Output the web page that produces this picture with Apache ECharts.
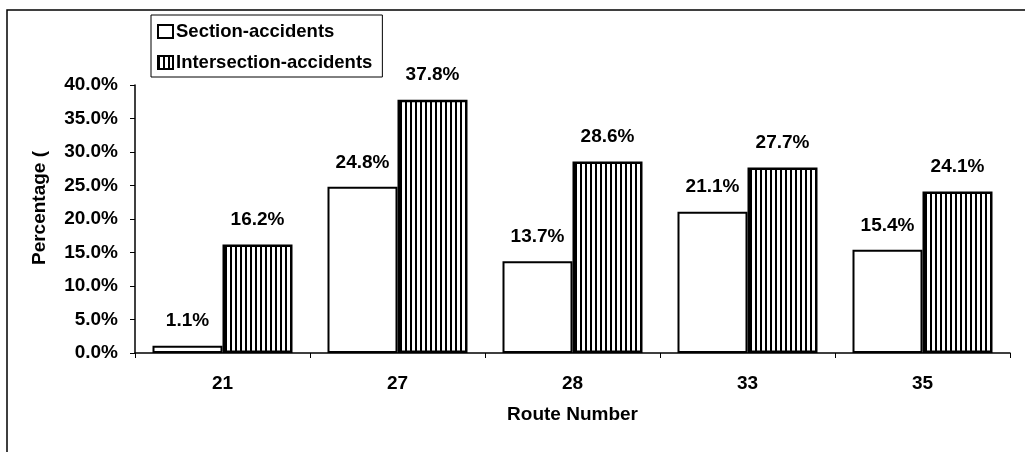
<!DOCTYPE html>
<html>
<head>
<meta charset="utf-8">
<script src="https://cdn.jsdelivr.net/npm/echarts@6/dist/echarts.min.js"></script>
<style>
  html, body { margin: 0; padding: 0; background: #fff; }
  #main { width: 1025px; height: 452px; }
</style>
</head>
<body>
<div id="main"></div>
<script>
var routes = ['21', '27', '28', '33', '35'];
var sectionAccidents = [1.1, 24.8, 13.7, 21.1, 15.4];
var intersectionAccidents = [16.2, 37.8, 28.6, 27.7, 24.1];
var yTicks = [0, 5, 10, 15, 20, 25, 30, 35, 40];

// vertical stripe fill for the intersection bars
function stripePattern() {
    var c = document.createElement('canvas');
    c.width = 5;
    c.height = 4;
    var ctx = c.getContext('2d');
    ctx.fillStyle = '#fff';
    ctx.fillRect(0, 0, 5, 4);
    ctx.fillStyle = '#000';
    ctx.fillRect(0, 0, 2, 4);
    return c;
}

var font = 'Liberation Sans, Arial, sans-serif';
var fs = 19;
var chart = echarts.init(document.getElementById('main'));
var option;

option = {
    animation: false,
    textStyle: { fontFamily: font, color: '#000' },
    graphic: [
        {
            type: 'polyline',
            shape: { points: [[7, 452], [7, 10], [1025, 10]] },
            style: { stroke: '#000', lineWidth: 1.5, fill: null }
        }
    ],
    legend: {
        orient: 'vertical',
        left: 151,
        top: 15,
        itemWidth: 15,
        itemHeight: 13,
        itemGap: 12,
        padding: [7, 10, 5, 6],
        borderColor: '#000',
        borderWidth: 1,
        icon: 'rect',
        textStyle: { fontFamily: font, fontWeight: 'bold', fontSize: 18.5, color: '#000', padding: [0, 0, 0, -2] },
        data: ['Section-accidents', 'Intersection-accidents']
    },
    grid: {
        left: 135,
        right: 15,
        top: 85,
        bottom: 99
    },
    xAxis: {
        type: 'category',
        data: routes,
        name: 'Route Number',
        nameLocation: 'middle',
        nameGap: 52,
        nameTextStyle: { fontFamily: font, fontWeight: 'bold', fontSize: fs, color: '#000' },
        axisLine: { lineStyle: { color: '#000', width: 1.5 } },
        axisTick: { show: true, length: 5, lineStyle: { color: '#000' } },
        axisLabel: { fontFamily: font, fontWeight: 'bold', fontSize: fs, color: '#000', margin: 21 }
    },
    yAxis: {
        type: 'value',
        min: yTicks[0],
        max: yTicks[yTicks.length - 1],
        interval: 5,
        name: 'Percentage (',
        nameLocation: 'middle',
        nameGap: 86,
        nameTextStyle: { fontFamily: font, fontWeight: 'bold', fontSize: fs, color: '#000', padding: [0, 0, 0, 22] },
        axisLine: { show: true, lineStyle: { color: '#000', width: 1.5 } },
        axisTick: { show: true, length: 5, lineStyle: { color: '#000' } },
        splitLine: { show: false },
        axisLabel: {
            fontFamily: font, fontWeight: 'bold', fontSize: fs, color: '#000', margin: 17,
            formatter: function (v) { return v.toFixed(1) + '%'; }
        }
    },
    series: [
        {
            name: 'Section-accidents',
            type: 'bar',
            data: sectionAccidents,
            barGap: '0%',
            barCategoryGap: '20%',
            itemStyle: { color: '#fff', borderColor: '#000', borderWidth: 2 },
            label: {
                show: true,
                position: 'top',
                distance: 15,
                fontFamily: font, fontWeight: 'bold', fontSize: fs, color: '#000',
                formatter: function (p) { return p.value.toFixed(1) + '%'; }
            }
        },
        {
            name: 'Intersection-accidents',
            type: 'bar',
            data: intersectionAccidents,
            itemStyle: {
                color: { image: stripePattern(), repeat: 'repeat' },
                borderColor: '#000',
                borderWidth: 2.5
            },
            label: {
                show: true,
                position: 'top',
                distance: 15,
                fontFamily: font, fontWeight: 'bold', fontSize: fs, color: '#000',
                formatter: function (p) { return p.value.toFixed(1) + '%'; }
            }
        }
    ]
};

option && chart.setOption(option);
</script>
</body>
</html>
